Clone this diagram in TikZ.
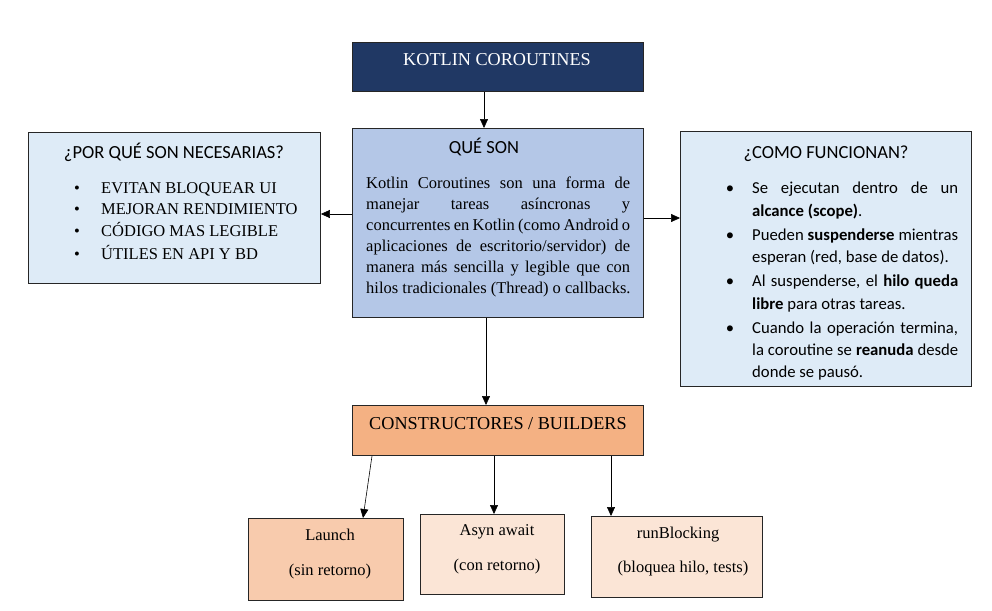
\documentclass[tikz,border=0pt]{standalone}
\usepackage{fontspec}
\setmainfont{Liberation Serif}
\newfontfamily\calib{Carlito}
\usetikzlibrary{arrows.meta}
\definecolor{navy}{HTML}{203864}
\definecolor{qblue}{HTML}{B4C7E7}
\definecolor{lblue}{HTML}{DEEBF7}
\definecolor{orng}{HTML}{F4B183}
\definecolor{lorng}{HTML}{F8CBAD}
\definecolor{porng}{HTML}{FBE5D6}
\newcommand{\jl}[1]{\makebox[206pt][s]{#1}}
\newcommand{\jb}[1]{\makebox[264pt][s]{#1}}
\tikzset{
  box/.style={draw=black!85, line width=0.9pt, inner sep=0pt, anchor=north west},
  arr/.style={-{Triangle[length=9pt,width=8pt]}, line width=0.6pt, black},
  serif/.style={font=\fontsize{16.5}{21}\selectfont},
  big/.style={font=\fontsize{18.2}{21}\selectfont},
  sans/.style={font=\calib\fontsize{16.7}{23}\selectfont},
  head/.style={font=\calib\fontsize{18.5}{23}\selectfont},
  lbl/.style={inner sep=0pt, anchor=base},
  lft/.style={inner sep=0pt, anchor=base west},
}
\begin{document}
\begin{tikzpicture}[x=1pt,y=-1pt]
\useasboundingbox (0,0) rectangle (992,610);
% boxes
\node[box, fill=navy, minimum width=291pt, minimum height=49pt] (kc) at (352,42) {};
\node[box, fill=qblue, minimum width=291pt, minimum height=189pt] (qs) at (352,128) {};
\node[box, fill=lblue, minimum width=292pt, minimum height=151pt] (por) at (28,132) {};
\node[box, fill=lblue, minimum width=291pt, minimum height=255pt] (como) at (680,131) {};
\node[box, fill=orng, minimum width=291pt, minimum height=50pt] (cb) at (352,405) {};
\node[box, fill=lorng, minimum width=155pt, minimum height=82pt] (la) at (248,518) {};
\node[box, fill=porng, minimum width=144pt, minimum height=80pt] (aa) at (420,514) {};
\node[box, fill=porng, minimum width=171pt, minimum height=81pt] (rb) at (591,516) {};

% titles
\node[lbl, big, white] (t1) at (497,66) {KOTLIN COROUTINES};
\node[lbl, head] (t2) at (484,153) {QUÉ SON};
\node[lbl, head] (t3) at (174,158) {¿POR QUÉ SON NECESARIAS?};
\node[lbl, head] (t4) at (826,158) {¿COMO FUNCIONAN?};
\node[lbl, big] (t5) at (498,429) {CONSTRUCTORES / BUILDERS};

% QUE SON body
\node[lft, serif] (b1) at (366,188) {\jb{Kotlin Coroutines son una forma de}};
\node[lft, serif] (b2) at (366,209) {\jb{manejar tareas asíncronas y}};
\node[lft, serif] (b3) at (366,230) {\jb{concurrentes en Kotlin (como Android o}};
\node[lft, serif] (b4) at (366,251) {\jb{aplicaciones de escritorio/servidor) de}};
\node[lft, serif] (b5) at (366,272) {\jb{manera más sencilla y legible que con}};
\node[lft, serif] (b6) at (366,293) {hilos tradicionales (Thread) o callbacks.};

% left bullets
\foreach \yy/\tt [count=\i] in {193/EVITAN BLOQUEAR UI, 214/MEJORAN RENDIMIENTO, 236/CÓDIGO MAS LEGIBLE, 259/ÚTILES EN API Y BD}{
  \node[lbl, serif] (lb\i) at (77,\yy) {•};
  \node[lft, serif] (lt\i) at (101,\yy) {\tt};
}

% right bullets
\node[lbl, sans] (rb1) at (730,193) {•};
\node[lft, sans] (r11) at (752,193) {\jl{Se ejecutan dentro de un}};
\node[lft, sans] (r12) at (752,216) {\textbf{alcance (scope)}.};
\node[lbl, sans] (rb2) at (730,240) {•};
\node[lft, sans] (r21) at (752,240) {\jl{Pueden \textbf{suspenderse} mientras}};
\node[lft, sans] (r22) at (752,262) {esperan (red, base de datos).};
\node[lbl, sans] (rb3) at (730,286) {•};
\node[lft, sans] (r31) at (752,286) {\jl{Al suspenderse, el \textbf{hilo queda}}};
\node[lft, sans] (r32) at (752,309) {\textbf{libre} para otras tareas.};
\node[lbl, sans] (rb4) at (730,333) {•};
\node[lft, sans] (r41) at (752,333) {\jl{Cuando la operación termina,}};
\node[lft, sans] (r42) at (752,355) {\jl{la coroutine se \textbf{reanuda} desde}};
\node[lft, sans] (r43) at (752,377) {donde se pausó.};

% builder texts
\node[lbl, serif] (l1) at (330,540) {Launch};
\node[lbl, serif] (l2) at (330,575) {(sin retorno)};
\node[lbl, serif] (a1) at (497,535) {Asyn await};
\node[lbl, serif] (a2) at (497,570) {(con retorno)};
\node[lbl, serif] (r1) at (678,538) {runBlocking};
\node[lbl, serif] (r2) at (683,572) {(bloquea hilo, tests)};

% arrows
\draw[arr] (kc.south -| 484,0) -- (qs.north -| 484,0);
\draw[arr] (qs.west |- 0,214) -- (por.east |- 0,214);
\draw[arr] (qs.east |- 0,218) -- (como.west |- 0,218);
\draw[arr] (qs.south -| 486,0) -- (cb.north -| 486,0);
\draw[arr] (cb.south -| 372,0) -- (la.north -| 363,0);
\draw[arr] (cb.south -| 494,0) -- (aa.north -| 494,0);
\draw[arr] (cb.south -| 611,0) -- (rb.north -| 611,0);
\end{tikzpicture}
\end{document}
